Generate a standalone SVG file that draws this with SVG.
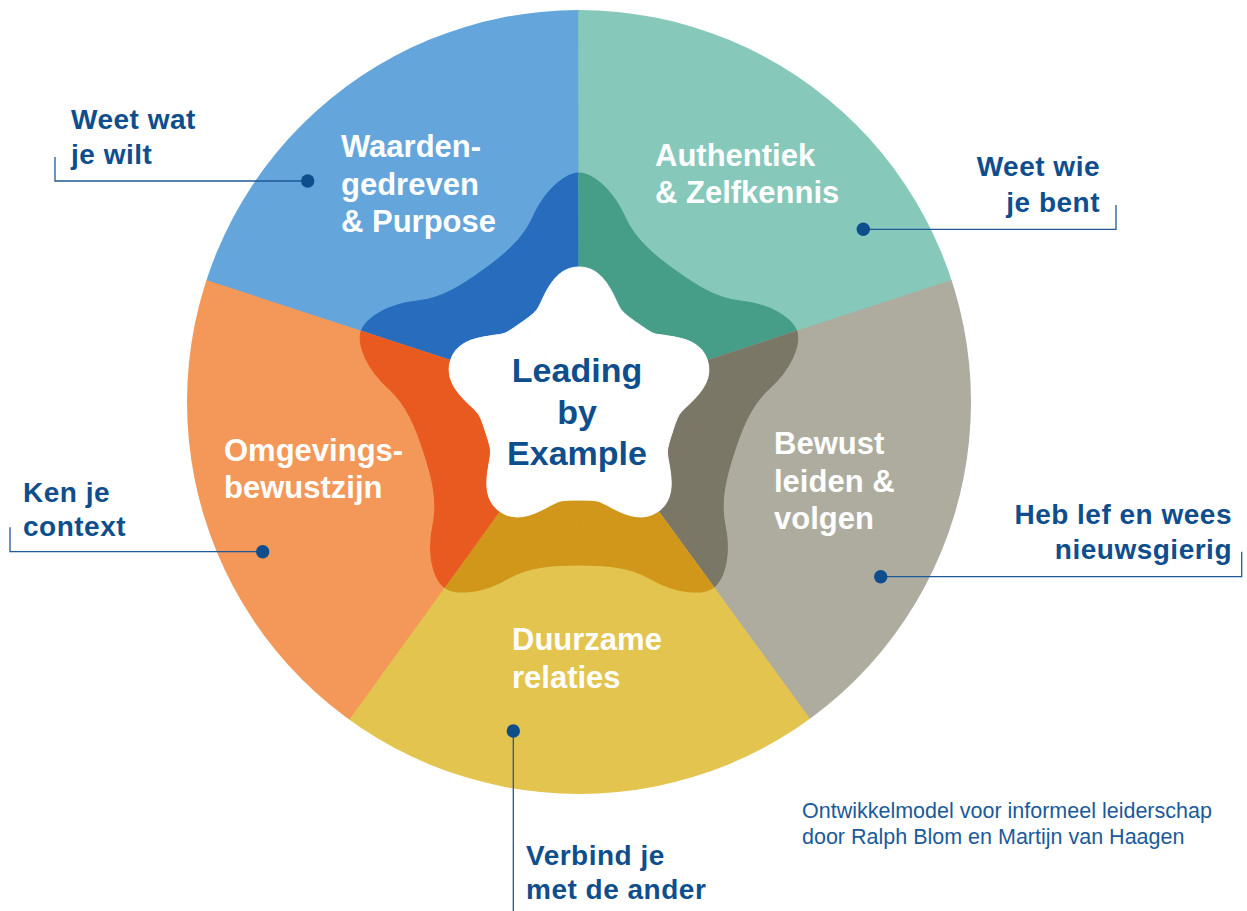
<svg xmlns="http://www.w3.org/2000/svg" xmlns:xlink="http://www.w3.org/1999/xlink" width="1247" height="911" viewBox="0 0 1247 911">
<defs>
<style>
.sl{font-family:"Liberation Sans",Arial,sans-serif;font-weight:700;font-size:31px;fill:#ffffff}
.ol{font-family:"Liberation Sans",Arial,sans-serif;font-weight:700;font-size:28px;fill:#0F4E8D;letter-spacing:0.5px}
.ct{font-family:"Liberation Sans",Arial,sans-serif;font-weight:700;font-size:34px;fill:#0F4E8D;text-anchor:middle}
.ft{font-family:"Liberation Sans",Arial,sans-serif;font-size:21.5px;fill:#1B5A9A}
.end{text-anchor:end}
.lead{fill:none;stroke:#1F5A96;stroke-width:1.3}
.dot{fill:#0F4E8D}
</style>
<path id="lobe" d="M 0 0 L -95.8 -131.9 C -75.6 -146.6 -56 -162.5 -46 -185 C -34 -212 -14 -229 0 -229 C 14 -229 34 -212 46 -185 C 56 -162.5 75.6 -146.6 95.8 -131.9 Z"/>
<g id="blob">
<use xlink:href="#lobe" href="#lobe" transform="translate(579 402)"/>
<use xlink:href="#lobe" href="#lobe" transform="translate(579 402) rotate(72)"/>
<use xlink:href="#lobe" href="#lobe" transform="translate(579 402) rotate(144)"/>
<use xlink:href="#lobe" href="#lobe" transform="translate(579 402) rotate(216)"/>
<use xlink:href="#lobe" href="#lobe" transform="translate(579 402) rotate(288)"/>
</g>
<path id="starlobe" d="M 0 0 L -57.6 -79.3 C -41.4 -91.1 -42 -91.25 -36 -104 C -28 -121 -18 -135 0 -135 C 18 -135 28 -121 36 -104 C 42 -91.25 41.4 -91.1 57.6 -79.3 Z"/>
<clipPath id="c-blue"><polygon points="579,402 8.4,216.6 579,-198"/></clipPath>
<clipPath id="c-teal"><polygon points="579,402 577.7,-198 1149.6,216.6"/></clipPath>
<clipPath id="c-gray"><polygon points="579,402 1149.2,215.4 931.7,887.4"/></clipPath>
<clipPath id="c-yellow"><polygon points="579,402 932.8,886.6 226.3,887.4"/></clipPath>
<clipPath id="c-orange"><polygon points="579,402 227.4,888.2 8.8,215.4"/></clipPath>
</defs>

<g id="sector-waarden">
<g clip-path="url(#c-blue)">
<circle cx="579" cy="402" r="392" fill="#64A6DB"/>
<use xlink:href="#blob" href="#blob" fill="#276CBD" stroke="#276CBD" stroke-width="1"/>
</g>
<text class="sl" x="341" y="157">Waarden-</text>
<text class="sl" x="341" y="194.5">gedreven</text>
<text class="sl" x="341" y="232">&amp; Purpose</text>
</g>

<g id="sector-authentiek">
<g clip-path="url(#c-teal)">
<circle cx="579" cy="402" r="392" fill="#86C8BA"/>
<use xlink:href="#blob" href="#blob" fill="#469E89" stroke="#469E89" stroke-width="1"/>
</g>
<text class="sl" x="655" y="166">Authentiek</text>
<text class="sl" x="655" y="203">&amp; Zelfkennis</text>
</g>

<g id="sector-bewust">
<g clip-path="url(#c-gray)">
<circle cx="579" cy="402" r="392" fill="#ADAC9F"/>
<use xlink:href="#blob" href="#blob" fill="#7A7767" stroke="#7A7767" stroke-width="1"/>
</g>
<text class="sl" x="774" y="453.5">Bewust</text>
<text class="sl" x="774" y="491.5">leiden &amp;</text>
<text class="sl" x="774" y="529">volgen</text>
</g>

<g id="sector-duurzaam">
<g clip-path="url(#c-yellow)">
<circle cx="579" cy="402" r="392" fill="#E3C44F"/>
<use xlink:href="#blob" href="#blob" fill="#D0971B" stroke="#D0971B" stroke-width="1"/>
</g>
<text class="sl" x="512" y="650">Duurzame</text>
<text class="sl" x="512" y="688">relaties</text>
</g>

<g id="sector-omgeving">
<g clip-path="url(#c-orange)">
<circle cx="579" cy="402" r="392" fill="#F39859"/>
<use xlink:href="#blob" href="#blob" fill="#E85A1F" stroke="#E85A1F" stroke-width="1"/>
</g>
<text class="sl" x="224" y="461">Omgevings-</text>
<text class="sl" x="224" y="498">bewustzijn</text>
</g>

<g id="center-star">
<g fill="#ffffff" stroke="#ffffff" stroke-width="1">
<use xlink:href="#starlobe" href="#starlobe" transform="translate(579 402)"/>
<use xlink:href="#starlobe" href="#starlobe" transform="translate(579 402) rotate(72)"/>
<use xlink:href="#starlobe" href="#starlobe" transform="translate(579 402) rotate(144)"/>
<use xlink:href="#starlobe" href="#starlobe" transform="translate(579 402) rotate(216)"/>
<use xlink:href="#starlobe" href="#starlobe" transform="translate(579 402) rotate(288)"/>
</g>
<text class="ct" x="577" y="382">Leading</text>
<text class="ct" x="577" y="423.5">by</text>
<text class="ct" x="577" y="465">Example</text>
</g>

<g id="connectors">
<path class="lead" d="M55 157 V181 H307"/>
<circle class="dot" cx="307.7" cy="181" r="6.7"/>
<path class="lead" d="M1116 205 V229.3 H863"/>
<circle class="dot" cx="863.3" cy="229.3" r="6.7"/>
<path class="lead" d="M1241.7 551.7 V576.7 H881"/>
<circle class="dot" cx="880.7" cy="576.7" r="6.7"/>
<path class="lead" d="M10 527.3 V551.7 H262.7"/>
<circle class="dot" cx="262.7" cy="551.7" r="6.7"/>
<path class="lead" d="M513.3 731 V911"/>
<circle class="dot" cx="513.3" cy="731" r="6.7"/>
</g>

<g id="label-weet-wat">
<text class="ol" x="71" y="128.5">Weet wat</text>
<text class="ol" x="71" y="163.5">je wilt</text>
</g>
<g id="label-weet-wie">
<text class="ol end" x="1100" y="176">Weet wie</text>
<text class="ol end" x="1100" y="211.5">je bent</text>
</g>
<g id="label-heb-lef">
<text class="ol end" x="1232" y="523.5">Heb lef en wees</text>
<text class="ol end" x="1232" y="558.5">nieuwsgierig</text>
</g>
<g id="label-ken-je">
<text class="ol" x="23" y="502">Ken je</text>
<text class="ol" x="23" y="536">context</text>
</g>
<g id="label-verbind">
<text class="ol" x="526" y="865">Verbind je</text>
<text class="ol" x="526" y="898.5">met de ander</text>
</g>

<g id="footer">
<text class="ft" x="802" y="817.5">Ontwikkelmodel voor informeel leiderschap</text>
<text class="ft" x="802" y="844">door Ralph Blom en Martijn van Haagen</text>
</g>
</svg>
